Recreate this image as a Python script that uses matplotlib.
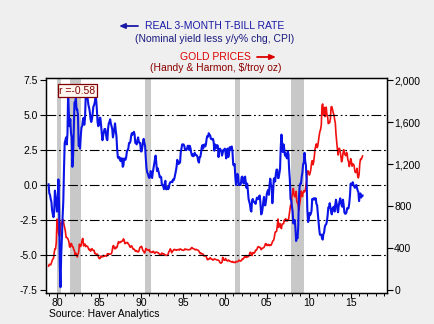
import numpy as np
import matplotlib
matplotlib.use("Agg")
import matplotlib.pyplot as plt
from matplotlib.ticker import FixedLocator, MultipleLocator

plt.rcParams['font.family'] = ['Liberation Sans', 'DejaVu Sans']
plt.rcParams['lines.scale_dashes'] = False

# ---------------- data (monthly, Jan 1979 - Jun 2016) ----------------
start_year = 1979

real_rate = [
    0.05, -0.6, -0.7, -1.0, -1.2, -1.8, -2.1, -2.3, -1.9, -0.4, -0.8, -1.3,   # 1979
    -1.9, -1.3, 0.4, -1.5, -5.8, -7.3, -5.0, -3.8, -2.3, -1.2, 1.1, 3.0,      # 1980
    3.2, 3.4, 2.9, 3.7, 6.9, 5.1, 4.2, 4.7, 3.7, 3.4, 1.3, 2.0,              # 1981
    3.9, 5.9, 5.9, 6.2, 5.4, 5.4, 5.0, 2.8, 2.9, 2.6, 3.5, 4.1,              # 1982
    4.2, 4.6, 4.8, 4.3, 4.7, 6.2, 6.6, 6.7, 6.1, 5.7, 5.5, 5.2,              # 1983
    4.7, 4.5, 4.7, 5.1, 5.6, 5.7, 5.9, 6.2, 6.1, 5.4, 4.5, 4.2,              # 1984
    4.3, 4.8, 4.8, 4.3, 3.7, 3.2, 3.5, 3.8, 4.0, 4.0, 3.7, 3.3,              # 1985
    3.2, 4.0, 4.4, 4.5, 4.7, 4.4, 4.2, 4.0, 3.4, 3.7, 4.0, 4.4,              # 1986
    3.9, 3.5, 2.6, 2.0, 1.9, 2.0, 1.9, 1.7, 1.9, 1.9, 1.3, 1.4,              # 1987
    1.9, 1.8, 1.8, 2.0, 2.4, 2.5, 2.6, 3.0, 3.0, 3.1, 3.5, 3.7,              # 1988
    3.6, 3.7, 3.8, 3.6, 3.0, 3.0, 2.9, 3.2, 3.4, 3.1, 3.0, 3.0,              # 1989
    2.4, 2.4, 2.7, 3.1, 3.3, 3.0, 2.8, 1.9, 1.2, 0.9, 0.8, 0.6,              # 1990
    0.5, 0.6, 1.0, 0.8, 0.5, 0.9, 1.2, 1.5, 1.8, 2.1, 1.6, 1.0,              # 1991
    1.2, 1.0, 0.8, 0.55, 0.6, 0.56, 0.0, 0.0, -0.1, -0.3, 0.1, 0.3,          # 1992
    -0.3, -0.3, -0.15, -0.3, -0.2, 0.1, 0.2, 0.2, 0.25, 0.2, 0.4, 0.35,      # 1993
    0.5, 0.75, 1.0, 1.3, 1.8, 1.6, 1.5, 1.6, 1.6, 2.35, 2.6, 2.9,            # 1994
    2.9, 2.9, 2.8, 2.55, 2.5, 2.5, 2.6, 2.8, 2.8, 2.5, 2.8, 2.6,             # 1995
    2.3, 2.1, 2.2, 2.05, 2.1, 2.3, 2.15, 2.15, 2.1, 2.0, 1.7, 1.6,           # 1996
    2.0, 2.0, 2.3, 2.7, 2.85, 2.6, 2.85, 2.9, 2.75, 2.9, 3.3, 3.5,           # 1997
    3.45, 3.7, 3.6, 3.55, 3.3, 3.3, 3.25, 3.3, 3.1, 2.45, 2.9, 2.8,          # 1998
    2.65, 2.85, 2.8, 2.0, 2.4, 2.6, 2.5, 2.45, 2.1, 2.3, 2.5, 2.5,           # 1999
    2.6, 2.35, 1.9, 2.55, 2.6, 2.0, 2.25, 2.7, 2.5, 2.7, 2.75, 2.35,         # 2000
    1.45, 1.4, 1.5, 0.6, 0.0, 0.3, 0.8, 0.65, 0.0, 0.05, 0.0, 0.1,           # 2001
    0.55, 0.6, 0.3, 0.1, 0.5, 0.6, 0.2, -0.2, 0.1, -0.4, -1.0, -1.2,         # 2002
    -1.4, -1.8, -1.9, -1.1, -1.0, -1.2, -1.2, -1.25, -1.35, -1.1, -0.9, -1.0,  # 2003
    -1.0, -0.8, -0.75, -1.35, -2.1, -2.0, -1.7, -1.2, -0.85, -1.45, -1.45, -1.1,  # 2004
    -0.65, -0.45, -0.35, -0.7, 0.0, 0.45, 0.0, -0.15, -1.3, -0.6, 0.4, 0.5,  # 2005
    0.25, 0.8, 1.1, 1.1, 0.5, 0.5, 0.85, 1.15, 2.7, 3.6, 2.95, 2.35,         # 2006
    2.9, 2.6, 2.1, 2.25, 2.0, 1.9, 2.4, 2.2, 1.1, 0.4, -1.0, -1.1,           # 2007
    -1.55, -1.9, -2.75, -2.6, -2.5, -3.1, -4.0, -3.7, -3.8, -3.0, -0.9, -0.1,  # 2008
    0.1, 0.1, 0.6, 0.9, 1.5, 1.6, 2.3, 1.7, 1.4, 0.3, -1.75, -2.65,          # 2009
    -2.55, -2.0, -2.15, -2.05, -1.85, -1.0, -1.05, -0.95, -0.95, -1.05, -0.95, -1.35,  # 2010
    -1.45, -2.0, -2.6, -3.15, -3.55, -3.55, -3.55, -3.8, -3.9, -3.5, -3.4, -3.0,  # 2011
    -2.85, -2.8, -2.6, -2.2, -1.6, -1.6, -1.3, -1.6, -1.9, -2.1, -1.7, -1.6,  # 2012
    -1.55, -1.9, -1.4, -1.05, -1.35, -1.75, -1.95, -1.45, -1.2, -0.95, -1.15, -1.45,  # 2013
    -1.55, -1.05, -1.45, -1.95, -2.05, -2.05, -1.95, -1.65, -1.7, -1.65, -1.3, -0.75,  # 2014
    0.1, 0.0, 0.1, 0.2, 0.0, -0.1, -0.2, -0.15, 0.0, -0.2, -0.4, -0.5,       # 2015
    -1.15, -0.7, -0.6, -0.9, -0.75, -0.75,                                   # 2016
]

gold_price = [
    227, 245, 242, 239, 257, 279, 294, 301, 355, 392, 392, 456,       # 1979
    675, 665, 553, 517, 514, 600, 644, 627, 674, 661, 623, 594,       # 1980
    557, 500, 499, 495, 480, 460, 409, 410, 443, 437, 413, 410,       # 1981
    384, 374, 330, 350, 333, 314, 340, 360, 436, 422, 414, 444,       # 1982
    481, 491, 420, 432, 438, 413, 422, 416, 412, 394, 382, 388,       # 1983
    370, 386, 394, 381, 377, 378, 348, 348, 341, 340, 341, 320,       # 1984
    303, 299, 304, 325, 316, 317, 317, 330, 323, 326, 325, 321,       # 1985
    345, 339, 346, 340, 342, 343, 348, 376, 418, 423, 398, 391,       # 1986
    408, 401, 409, 438, 460, 450, 450, 461, 460, 465, 467, 487,       # 1987
    477, 442, 444, 452, 451, 452, 437, 432, 413, 406, 420, 419,       # 1988
    404, 388, 390, 384, 371, 368, 375, 365, 362, 367, 394, 409,       # 1989
    410, 416, 393, 374, 369, 352, 362, 395, 389, 381, 381, 377,       # 1990
    384, 363, 363, 358, 357, 367, 368, 356, 349, 359, 360, 361,       # 1991
    354, 354, 345, 338, 337, 341, 353, 343, 345, 344, 335, 334,       # 1992
    329, 329, 330, 342, 367, 372, 392, 379, 355, 365, 374, 383,       # 1993
    387, 382, 384, 378, 381, 385, 385, 380, 391, 389, 384, 379,       # 1994
    379, 377, 382, 391, 385, 387, 386, 383, 383, 383, 386, 387,       # 1995
    400, 405, 396, 393, 392, 385, 383, 387, 383, 381, 378, 369,       # 1996
    355, 346, 352, 344, 344, 341, 324, 324, 323, 325, 306, 289,       # 1997
    289, 297, 296, 308, 299, 292, 293, 284, 289, 296, 294, 291,       # 1998
    287, 287, 286, 282, 277, 262, 256, 257, 265, 311, 293, 283,       # 1999
    284, 300, 286, 280, 275, 285, 282, 274, 273, 270, 266, 272,       # 2000
    266, 262, 263, 261, 272, 270, 268, 273, 283, 283, 276, 276,       # 2001
    282, 296, 294, 303, 314, 321, 314, 310, 319, 317, 319, 333,       # 2002
    357, 359, 340, 328, 355, 356, 351, 360, 379, 378, 389, 407,       # 2003
    414, 405, 406, 404, 384, 392, 398, 401, 405, 420, 439, 442,       # 2004
    424, 424, 434, 429, 422, 431, 425, 438, 457, 470, 476, 510,       # 2005
    550, 555, 557, 610, 676, 596, 633, 632, 599, 585, 628, 629,       # 2006
    631, 665, 655, 679, 667, 656, 666, 665, 713, 754, 807, 803,       # 2007
    889, 923, 968, 909, 888, 890, 939, 839, 829, 807, 760, 816,       # 2008
    858, 943, 925, 890, 928, 946, 934, 949, 996, 1043, 1127, 1135,    # 2009
    1118, 1095, 1114, 1148, 1205, 1232, 1193, 1215, 1271, 1343, 1370, 1392,  # 2010
    1356, 1372, 1424, 1473, 1510, 1529, 1573, 1756, 1772, 1665, 1739, 1652,  # 2011
    1656, 1742, 1673, 1650, 1585, 1596, 1594, 1630, 1744, 1747, 1721, 1688,  # 2012
    1670, 1627, 1592, 1485, 1414, 1343, 1286, 1347, 1349, 1316, 1275, 1221,  # 2013
    1244, 1300, 1336, 1299, 1288, 1279, 1311, 1296, 1239, 1222, 1176, 1202,  # 2014
    1251, 1227, 1179, 1198, 1199, 1181, 1129, 1118, 1124, 1159, 1086, 1068,  # 2015
    1097, 1200, 1246, 1242, 1260, 1276,                                      # 2016
]

recession_start = [1980.0, 1981.5, 1990.5, 2001.17, 2007.92]
recession_end = [1980.5, 1982.83, 1991.17, 2001.83, 2009.42]

x_ticks = [1980, 1985, 1990, 1995, 2000, 2005, 2010, 2015]
x_labels = ["80", "85", "90", "95", "00", "05", "10", "15"]
left_ticks = [7.5, 5.0, 2.5, 0.0, -2.5, -5.0, -7.5]
left_labels = ["7.5", "5.0", "2.5", "0.0", "-2.5", "-5.0", "-7.5"]
right_ticks = [2000, 1600, 1200, 800, 400, 0]
right_labels = ["2,000", "1,600", "1,200", "800", "400", "0"]
grid_levels = [5.0, 2.5, 0.0, -2.5, -5.0]

# ---------------- figure ----------------
W, H = 434, 324
fig = plt.figure(figsize=(W / 100, H / 100), dpi=100, facecolor='#efefef')

L, R, T, B = 45.5, 386.5, 77.5, 292.5
ax2 = fig.add_axes([L / W, 1 - B / H, (R - L) / W, (B - T) / H])
ax = ax2.twinx()
ax.set_zorder(3)
ax2.set_zorder(1)
ax.patch.set_visible(False)
ax2.set_facecolor('white')

ax.yaxis.tick_left()
ax.yaxis.set_label_position('left')
ax2.yaxis.tick_right()
ax2.yaxis.set_label_position('right')

t_rate = start_year + np.arange(len(real_rate)) / 12.0
t_gold = start_year + np.arange(len(gold_price)) / 12.0

for s, e in zip(recession_start, recession_end):
    ax2.axvspan(s, e, color='#c8c8c8', lw=0, zorder=0)

ax2.plot(t_gold, gold_price, color='#f01010', lw=1.2, zorder=3)

for g in grid_levels:
    ax.axhline(g, color='black', lw=0.8, ls=(0, (7, 2, 1.3, 2, 1.3, 2)), zorder=1)

ax.plot(t_rate, real_rate, color='#0a14e6', lw=1.5, zorder=4)

ax.set_xlim(1978.63, 2019.27)
ax2.set_xlim(1978.63, 2019.27)
ax.set_ylim(-7.68, 7.68)
ax2.set_ylim(-24, 2024)

fs = 7.5
ax.yaxis.set_major_locator(FixedLocator(left_ticks))
ax.set_yticklabels(left_labels)
ax2.yaxis.set_major_locator(FixedLocator(right_ticks))
ax2.set_yticklabels(right_labels)
ax2.xaxis.set_major_locator(FixedLocator(x_ticks))
ax2.set_xticklabels(x_labels)
ax2.xaxis.set_minor_locator(MultipleLocator(1))
ax.tick_params(axis='x', which='both', bottom=False, top=False,
               labelbottom=False, labeltop=False)

ax.tick_params(axis='y', direction='out', length=4, width=0.8, labelsize=fs,
               pad=1.5, left=True, right=False, labelleft=True, labelright=False)
ax2.tick_params(axis='y', direction='out', length=4, width=0.8, labelsize=fs,
                pad=1.5, left=False, right=True, labelleft=False, labelright=True)
ax2.tick_params(axis='x', which='major', direction='out', length=3.5, width=0.8,
                labelsize=fs, pad=0.5, top=False)
ax2.tick_params(axis='x', which='minor', direction='out', length=2, width=0.7,
                top=False)

for a in (ax, ax2):
    for sp in a.spines.values():
        sp.set_linewidth(0.9)
        sp.set_color('black')

# ---------------- annotations ----------------
fig.text(215 / W, 1 - 26 / H, "REAL 3-MONTH T-BILL RATE", color='#1a1aa6',
         fontsize=fs, ha='center', va='center')
fig.text(215 / W, 1 - 39 / H, "(Nominal yield less y/y% chg, CPI)", color='#1a1a80',
         fontsize=fs, ha='center', va='center')
fig.text(215 / W, 1 - 56.7 / H, "GOLD PRICES", color='#dd0000',
         fontsize=fs, ha='center', va='center')
fig.text(216 / W, 1 - 68.3 / H, "(Handy & Harmon, $/troy oz)", color='#8b0000',
         fontsize=fs, ha='center', va='center')

fig.add_artist(plt.Annotation("", xy=(119 / W, 1 - 26 / H), xytext=(138 / W, 1 - 26 / H),
                              xycoords='figure fraction', textcoords='figure fraction',
                              arrowprops=dict(arrowstyle='-|>,head_length=0.35,head_width=0.15',
                                              color='#1a1aa6', lw=1.3, shrinkA=0, shrinkB=0)))
fig.add_artist(plt.Annotation("", xy=(276 / W, 1 - 57 / H), xytext=(257 / W, 1 - 57 / H),
                              xycoords='figure fraction', textcoords='figure fraction',
                              arrowprops=dict(arrowstyle='-|>,head_length=0.35,head_width=0.15',
                                              color='#dd0000', lw=1.3, shrinkA=0, shrinkB=0)))

ax.text(0.04, 0.962, "r =-0.58", transform=ax.transAxes, fontsize=fs, color='#800000',
        ha='left', va='top', zorder=6,
        bbox=dict(boxstyle='square,pad=0.15', facecolor='#fff6f0', edgecolor='#800000', lw=0.9))

fig.text(49 / W, 1 - 314 / H, "Source: Haver Analytics", color='black',
         fontsize=fs, ha='left', va='center')

fig.savefig("out.png", dpi=100, facecolor=fig.get_facecolor())
